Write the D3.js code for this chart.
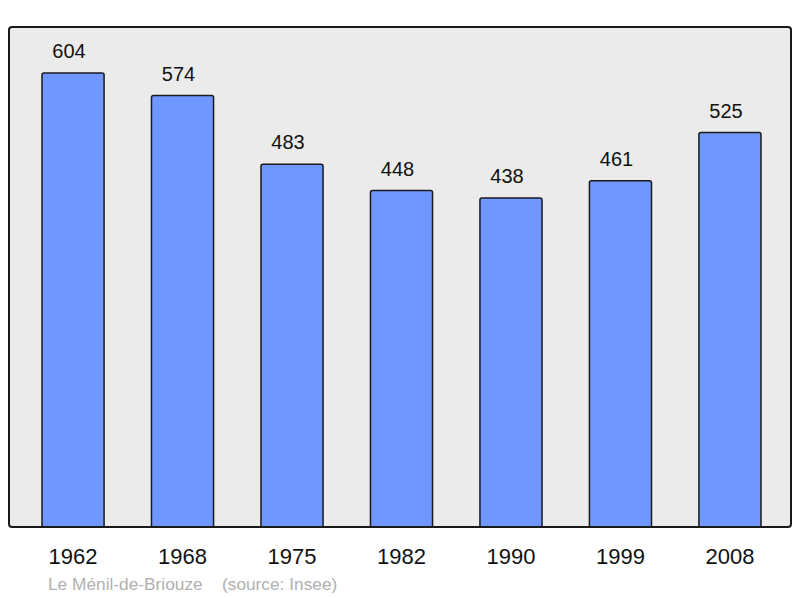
<!DOCTYPE html>
<html><head><meta charset="utf-8">
<script src="https://cdn.jsdelivr.net/npm/d3@7"></script>
<style>body{margin:0;background:#fff}svg{display:block}</style>
</head><body>
<script>
const years = ["1962","1968","1975","1982","1990","1999","2008"];
const population = [604,574,483,448,438,461,525];
const commune = "Le Ménil-de-Briouze";
const source = "(source: Insee)";

const W=800,H=598;
const svg=d3.select("body").append("svg").attr("width",W).attr("height",H)
  .style("font-family","'Liberation Sans', Arial, sans-serif");

svg.append("rect").attr("x",9).attr("y",27).attr("width",782).attr("height",500)
  .attr("rx",3).attr("fill","#ebebeb").attr("stroke","#1a1a1a").attr("stroke-width",2);

const x=d3.scaleBand().domain(years).range([42,761]).paddingInner(0.433).paddingOuter(0);
const y=d3.scaleLinear().domain([0,604]).range([528,73]);

const data=years.map((yr,i)=>({yr,v:population[i]}));

svg.selectAll("rect.bar").data(data).enter().append("rect").attr("class","bar")
  .attr("x",d=>x(d.yr)).attr("y",d=>y(d.v)).attr("width",x.bandwidth())
  .attr("height",d=>y(0)-y(d.v)+3).attr("rx",2)
  .attr("fill","#7096ff").attr("stroke","#1a1a1a").attr("stroke-width",1.5);

svg.append("rect").attr("x",0).attr("y",528).attr("width",W).attr("height",10).attr("fill","#fff");
svg.append("line").attr("x1",12).attr("x2",788).attr("y1",527).attr("y2",527)
  .attr("stroke","#1a1a1a").attr("stroke-width",2);

svg.selectAll("text.val").data(data).enter().append("text").attr("class","val")
  .attr("x",d=>x(d.yr)+x.bandwidth()/2-4).attr("y",d=>y(d.v)-15)
  .attr("text-anchor","middle").attr("font-size",20).attr("fill","#111").text(d=>d.v);

const xAxis=d3.axisBottom(x).tickSize(0).tickPadding(0);
const gx=svg.append("g").attr("transform","translate(0,548)").call(xAxis);
gx.select(".domain").remove();
gx.selectAll("text").attr("font-size",22).attr("fill","#111")
  .attr("font-family","'Liberation Sans', Arial, sans-serif").attr("dy","0.71em");

svg.append("text").attr("x",48).attr("y",590).attr("font-size",17.3).attr("fill","#b0b0b0").text(commune);
svg.append("text").attr("x",222).attr("y",590).attr("font-size",17.3).attr("fill","#b0b0b0").text(source);
</script>
</body></html>
